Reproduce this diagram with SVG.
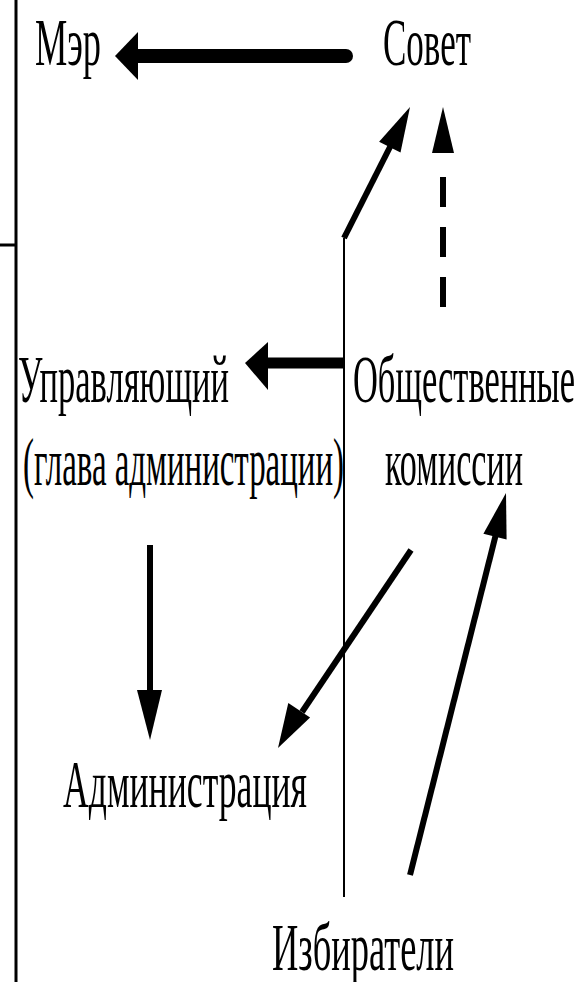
<svg xmlns="http://www.w3.org/2000/svg" width="580" height="982" viewBox="0 0 580 982">
<style>
.lbl{font-family:"Liberation Serif","DejaVu Serif",serif;font-size:68px;fill:#000}
.thin{stroke:#000;stroke-width:2;fill:none}
.shaft{stroke:#000;fill:none;stroke-linecap:butt}
.head{fill:#000;stroke:none}
</style>
<rect width="580" height="982" fill="#fff"/>
<g id="frame">
<line class="thin" x1="16" y1="0" x2="16" y2="982" style="stroke-width:3"/>
<line class="thin" x1="0" y1="245" x2="16" y2="245" style="stroke-width:3"/>
</g>
<g id="connectors">
<line class="shaft" x1="346" y1="56" x2="135" y2="56" style="stroke-width:14;stroke-linecap:round"/>
<polygon class="head" points="115,56 138,32 138,80"/>
<line class="thin" x1="344" y1="238" x2="344" y2="897"/>
<line class="shaft" x1="344" y1="238" x2="392" y2="143" style="stroke-width:6"/>
<polygon class="head" points="410,107 400.5,152.6 379.1,141.8"/>
<line class="shaft" x1="443" y1="307" x2="443" y2="177" style="stroke-width:6;stroke-dasharray:30 20"/>
<polygon class="head" points="443,107 432,153 454,153"/>
<line class="shaft" x1="345" y1="363" x2="264" y2="363" style="stroke-width:11"/>
<polygon class="head" points="245,363 268,342 268,390"/>
<line class="shaft" x1="150" y1="545" x2="150" y2="692" style="stroke-width:6"/>
<polygon class="head" points="150,740 137,690 162,690"/>
<line class="shaft" x1="411" y1="550" x2="302" y2="712" style="stroke-width:6"/>
<polygon class="head" points="278,748 310.1,717.6 288.3,703"/>
<line class="shaft" x1="410" y1="875" x2="496" y2="534" style="stroke-width:6"/>
<polygon class="head" points="506,493 506.6,539.5 483.4,533.7"/>
</g>
<g id="mayor"><text class="lbl" x="35" y="65" textLength="66" lengthAdjust="spacingAndGlyphs">Мэр</text></g>
<g id="council"><text class="lbl" x="383" y="65" textLength="88" lengthAdjust="spacingAndGlyphs">Совет</text></g>
<g id="manager">
<text class="lbl" x="18" y="402" textLength="211" lengthAdjust="spacingAndGlyphs">Управляющий</text>
<text class="lbl" x="23" y="485" textLength="321" lengthAdjust="spacingAndGlyphs">(глава администрации)</text>
</g>
<g id="commissions">
<text class="lbl" x="353" y="402" textLength="222" lengthAdjust="spacingAndGlyphs">Общественные</text>
<text class="lbl" x="385" y="485" textLength="138" lengthAdjust="spacingAndGlyphs">комиссии</text>
</g>
<g id="administration"><text class="lbl" x="63" y="807" textLength="244" lengthAdjust="spacingAndGlyphs">Администрация</text></g>
<g id="voters"><text class="lbl" x="272" y="970" textLength="182" lengthAdjust="spacingAndGlyphs">Избиратели</text></g>
</svg>
